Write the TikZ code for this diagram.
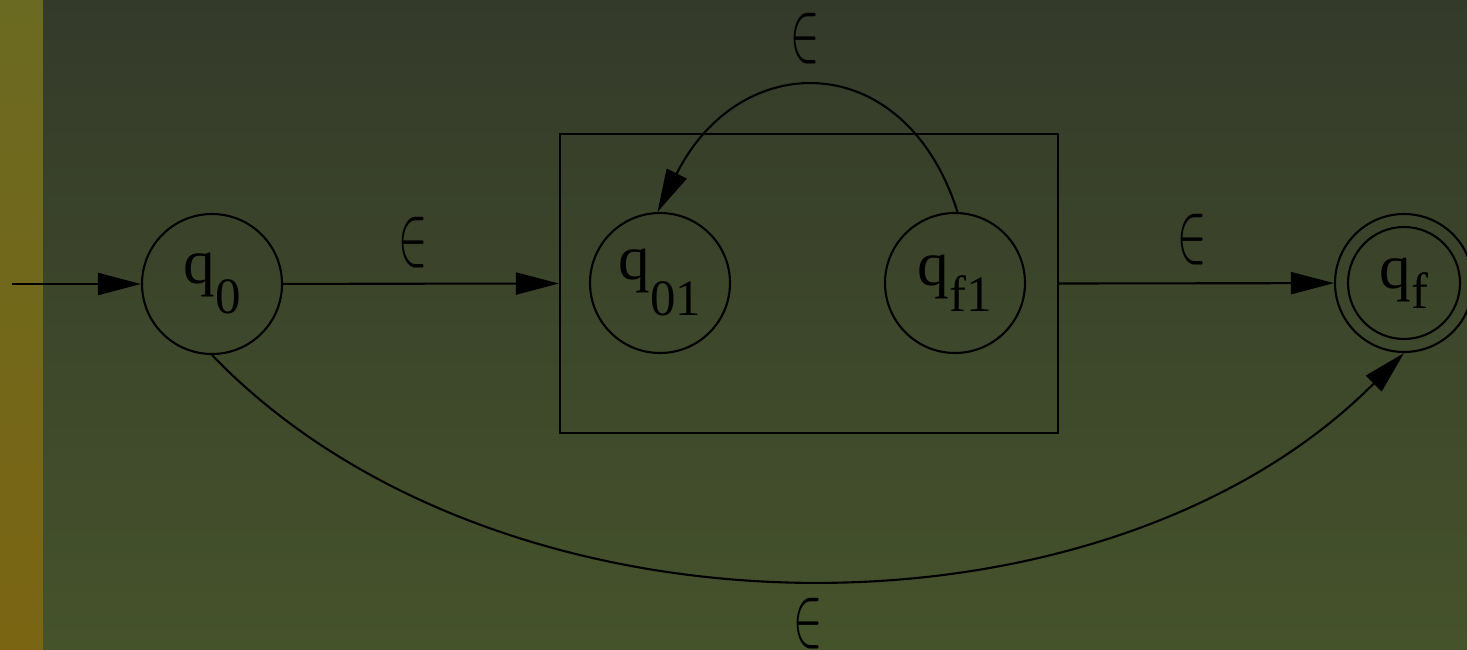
\documentclass[tikz,border=0pt]{standalone}
\usepackage{fontspec}
\setmainfont{Liberation Serif}
\usepackage{graphicx}
\usetikzlibrary{arrows.meta,calc,positioning}

\definecolor{bgtop}{HTML}{343A2A}
\definecolor{bgbottom}{HTML}{45532B}
\definecolor{stripetop}{HTML}{6B6A22}
\definecolor{stripebottom}{HTML}{7A6512}

% state name with a lowered index
\newcommand{\qlabel}[2]{{\fontsize{18}{18}\selectfont q}\raisebox{-#2}{\fontsize{14.5}{14.5}\selectfont #1}}
\newcommand{\epslabel}{\fontsize{24}{24}\selectfont\scalebox{0.5}[1]{$\in$}}

\begin{document}
\begin{tikzpicture}[
    font=\fontsize{17}{17}\selectfont,
    % Styles
    state/.style={draw, circle, minimum size=1.4cm, inner sep=0pt, line width=0.6pt},
    group/.style={draw, rectangle, minimum width=4.98cm, minimum height=2.99cm, line width=0.6pt},
    arrow/.style={-{Triangle[length=0.43cm,width=0.22cm]}, line width=0.6pt},
    eps/.style={inner sep=0pt},
]

    % Background
    \useasboundingbox (0,0) rectangle (14.67,6.49);
    \shade[top color=bgtop, bottom color=bgbottom] (0.43,0) rectangle (14.67,6.49);
    \shade[top color=stripetop, bottom color=stripebottom] (0,0) rectangle (0.43,6.49);

    % States
    \node[state] (q0) at (2.12,3.65) {\qlabel{0}{0.30cm}};
    \node[group] (sub) at (8.09,3.655) {};
    \node[state] (q01) at (6.60,3.66) {\qlabel{01}{0.36cm}};
    \node[state] (qf1) at (9.55,3.66) {\qlabel{f1}{0.26cm}};
    \node[state, minimum size=1.38cm] (qf) at (14.04,3.66) {\qlabel{f}{0.20cm}};
    \draw[line width=0.6pt] (qf.center) circle (0.56cm);

    \coordinate (start) at (0.12,3.65);

    % Transitions
    \draw[arrow] (start) -- (q0);
    \draw[arrow] (q0) -- (sub.west);
    \draw[arrow] (sub.east) -- (qf);
    \draw[arrow] (qf1.88) .. controls (9.05,6.02) and (7.40,6.02) .. (q01.92);
    \draw[arrow] (q0.270) .. controls (5.00,-0.05) and (11.05,-0.05) .. (qf.270);

    % Labels
    \node[eps] (e1) at (4.13,4.06) {\epslabel};
    \node[eps] (e2) at (11.92,4.09) {\epslabel};
    \node[eps] (e3) at (8.05,6.10) {\epslabel};
    \node[eps] (e4) at (8.08,0.25) {\epslabel};

\end{tikzpicture}
\end{document}
